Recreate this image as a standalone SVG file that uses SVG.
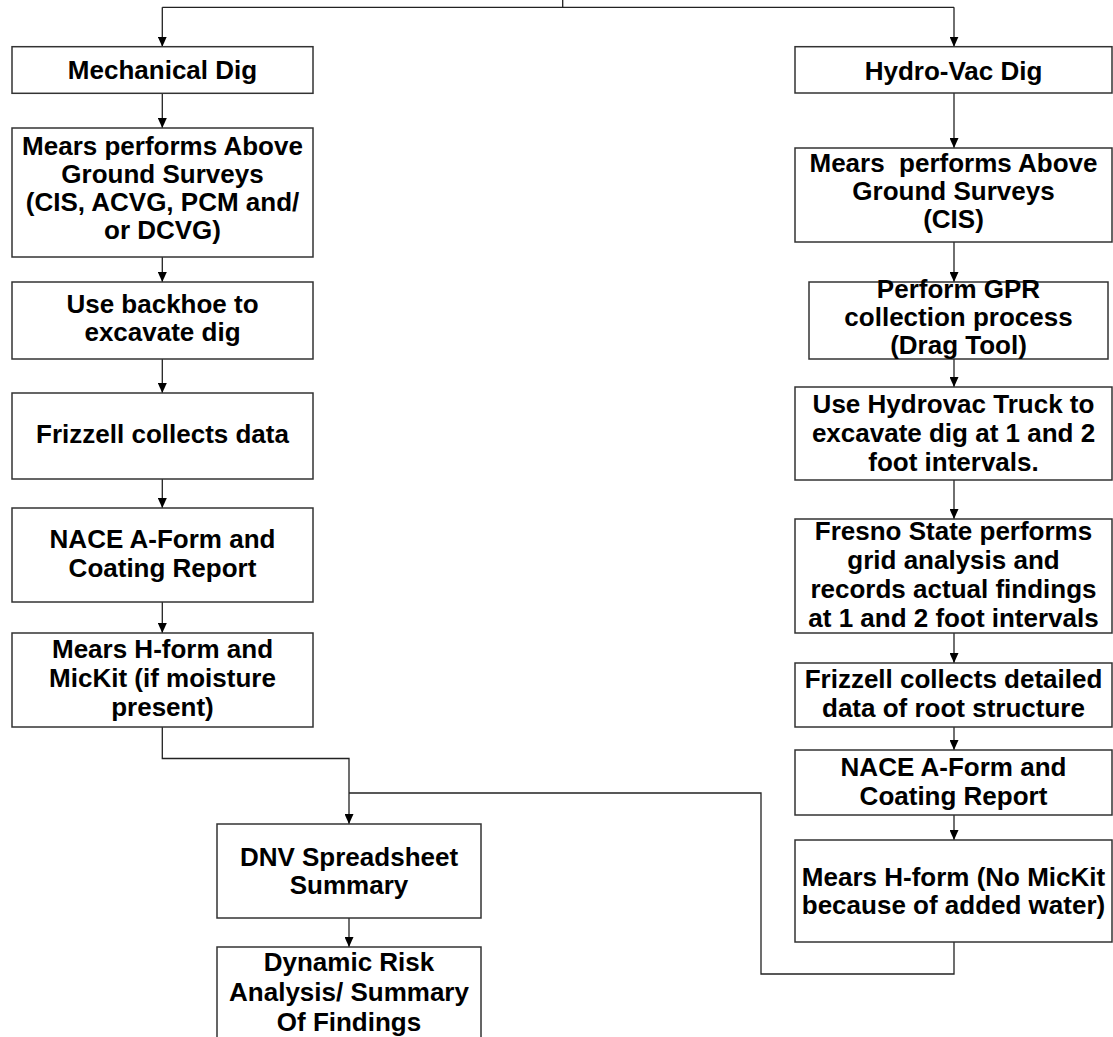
<svg xmlns="http://www.w3.org/2000/svg" width="1113" height="1037" viewBox="0 0 1113 1037">
<style>
  .box { fill: #ffffff; stroke: #333333; stroke-width: 1.5; }
  .t { font-family: "Liberation Sans", Arial, sans-serif; font-weight: bold; font-size: 26px; fill: #000000; text-anchor: middle; white-space: pre; }
  .ln { fill: none; stroke: #222222; stroke-width: 1.3; }
</style>
<defs>
  <marker id="ah" markerUnits="userSpaceOnUse" markerWidth="10" markerHeight="9" refX="10" refY="4.5" orient="auto">
    <path d="M0,0 L10,4.5 L0,9 z" fill="#000000"/>
  </marker>
</defs>
<rect width="1113" height="1037" fill="#ffffff"/>

<g id="connectors">
  <path class="ln" d="M562.7,0 V7.3"/>
  <path class="ln" d="M162.3,7.3 H954"/>
  <path class="ln" d="M162.3,7.3 V46.7" marker-end="url(#ah)"/>
  <path class="ln" d="M954,7.3 V46.7" marker-end="url(#ah)"/>
  <path class="ln" d="M162.3,93.3 V128" marker-end="url(#ah)"/>
  <path class="ln" d="M162.3,257 V282" marker-end="url(#ah)"/>
  <path class="ln" d="M162.3,359 V393" marker-end="url(#ah)"/>
  <path class="ln" d="M162.3,479 V508" marker-end="url(#ah)"/>
  <path class="ln" d="M162.3,602 V633" marker-end="url(#ah)"/>
  <path class="ln" d="M162.3,727 V758.5 H349 V824" marker-end="url(#ah)"/>
  <path class="ln" d="M349,918 V947" marker-end="url(#ah)"/>
  <path class="ln" d="M954,93 V148" marker-end="url(#ah)"/>
  <path class="ln" d="M954,242 V282" marker-end="url(#ah)"/>
  <path class="ln" d="M954,359 V387" marker-end="url(#ah)"/>
  <path class="ln" d="M954,480 V519" marker-end="url(#ah)"/>
  <path class="ln" d="M954,633 V663" marker-end="url(#ah)"/>
  <path class="ln" d="M954,727 V750" marker-end="url(#ah)"/>
  <path class="ln" d="M954,815 V840" marker-end="url(#ah)"/>
  <path class="ln" d="M954,942 V974 H761 V793 H349"/>
</g>

<g id="mechanical-dig">
  <rect class="box" x="12" y="46.7" width="301" height="46.6"/>
  <text class="t" x="162.5" y="79">Mechanical Dig</text>
</g>
<g id="mears-surveys-left">
  <rect class="box" x="12" y="128" width="301" height="129"/>
  <text class="t" x="162.5" y="155">Mears performs Above</text>
  <text class="t" x="162.5" y="183">Ground Surveys</text>
  <text class="t" x="162.5" y="211">(CIS, ACVG, PCM and/</text>
  <text class="t" x="162.5" y="239">or DCVG)</text>
</g>
<g id="backhoe">
  <rect class="box" x="12" y="282" width="301" height="77"/>
  <text class="t" x="162.5" y="313">Use backhoe to</text>
  <text class="t" x="162.5" y="341">excavate dig</text>
</g>
<g id="frizzell-left">
  <rect class="box" x="12" y="393" width="301" height="86"/>
  <text class="t" x="162.5" y="443">Frizzell collects data</text>
</g>
<g id="nace-left">
  <rect class="box" x="12" y="508" width="301" height="94"/>
  <text class="t" x="162.5" y="548">NACE A-Form and</text>
  <text class="t" x="162.5" y="577">Coating Report</text>
</g>
<g id="hform-left">
  <rect class="box" x="12" y="633" width="301" height="94"/>
  <text class="t" x="162.5" y="658">Mears H-form and</text>
  <text class="t" x="162.5" y="687">MicKit (if moisture</text>
  <text class="t" x="162.5" y="716">present)</text>
</g>

<g id="dnv">
  <rect class="box" x="217" y="824" width="264" height="94"/>
  <text class="t" x="349" y="866">DNV Spreadsheet</text>
  <text class="t" x="349" y="894">Summary</text>
</g>
<g id="dynamic-risk">
  <rect class="box" x="217" y="947" width="264" height="100"/>
  <text class="t" x="349" y="971">Dynamic Risk</text>
  <text class="t" x="349" y="1001">Analysis/ Summary</text>
  <text class="t" x="349" y="1031">Of Findings</text>
</g>

<g id="hydrovac-dig">
  <rect class="box" x="795" y="46.7" width="317" height="46.3"/>
  <text class="t" x="953.5" y="80">Hydro-Vac Dig</text>
</g>
<g id="mears-surveys-right">
  <rect class="box" x="795" y="148" width="317" height="94"/>
  <text class="t" x="953.5" y="172">Mears  performs Above</text>
  <text class="t" x="953.5" y="200">Ground Surveys</text>
  <text class="t" x="953.5" y="228">(CIS)</text>
</g>
<g id="gpr">
  <rect class="box" x="809" y="282" width="299" height="77"/>
  <text class="t" x="958.5" y="298">Perform GPR</text>
  <text class="t" x="958.5" y="326">collection process</text>
  <text class="t" x="958.5" y="354">(Drag Tool)</text>
</g>
<g id="hydrovac-truck">
  <rect class="box" x="795" y="387" width="317" height="93"/>
  <text class="t" x="953.5" y="413">Use Hydrovac Truck to</text>
  <text class="t" x="953.5" y="442">excavate dig at 1 and 2</text>
  <text class="t" x="953.5" y="471">foot intervals.</text>
</g>
<g id="fresno-state">
  <rect class="box" x="795" y="519" width="317" height="114"/>
  <text class="t" x="953.5" y="540">Fresno State performs</text>
  <text class="t" x="953.5" y="569">grid analysis and</text>
  <text class="t" x="953.5" y="598">records actual findings</text>
  <text class="t" x="953.5" y="627">at 1 and 2 foot intervals</text>
</g>
<g id="frizzell-right">
  <rect class="box" x="795" y="663" width="317" height="64"/>
  <text class="t" x="953.5" y="688">Frizzell collects detailed</text>
  <text class="t" x="953.5" y="717">data of root structure</text>
</g>
<g id="nace-right">
  <rect class="box" x="795" y="750" width="317" height="65"/>
  <text class="t" x="953.5" y="776">NACE A-Form and</text>
  <text class="t" x="953.5" y="805">Coating Report</text>
</g>
<g id="hform-right">
  <rect class="box" x="795" y="840" width="317" height="102"/>
  <text class="t" x="953.5" y="886">Mears H-form (No MicKit</text>
  <text class="t" x="953.5" y="914">because of added water)</text>
</g>
</svg>
